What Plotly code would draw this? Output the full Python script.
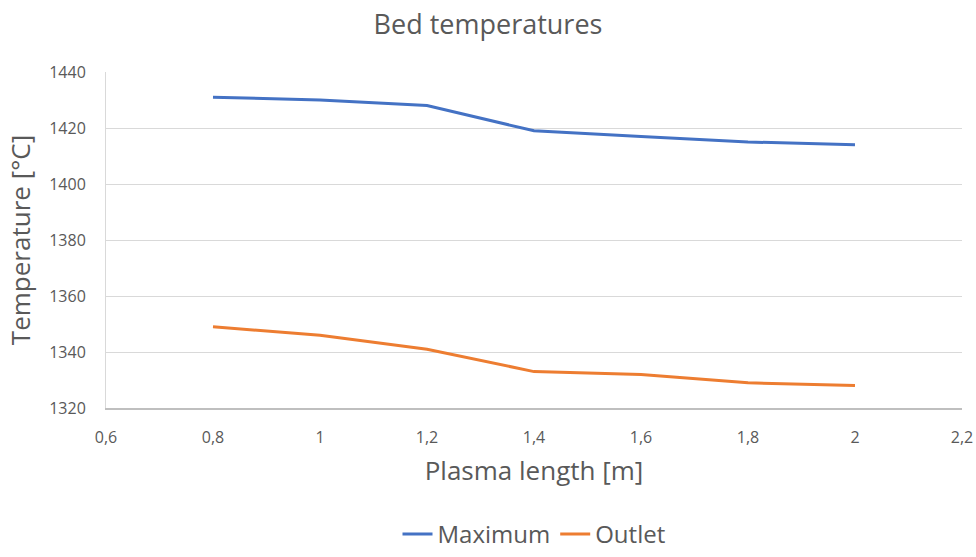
import plotly.graph_objects as go

plasma_length = [0.8, 1.0, 1.2, 1.4, 1.6, 1.8, 2.0]
maximum_temp = [1431, 1430, 1428, 1419, 1417, 1415, 1414]
outlet_temp = [1349, 1346, 1341, 1333, 1332, 1329, 1328]

x_ticks = [0.6, 0.8, 1.0, 1.2, 1.4, 1.6, 1.8, 2.0, 2.2]
x_tick_labels = ["0,6", "0,8", "1", "1,2", "1,4", "1,6", "1,8", "2", "2,2"]
y_ticks = [1320, 1340, 1360, 1380, 1400, 1420, 1440]

FONT = "Open Sans, Liberation Sans, sans-serif"
TEXT = "#595959"
H = 557

fig = go.Figure()
fig.add_trace(go.Scatter(x=plasma_length, y=maximum_temp, mode="lines", name="Maximum",
                         line=dict(color="#4472C4", width=3)))
fig.add_trace(go.Scatter(x=plasma_length, y=outlet_temp, mode="lines", name="Outlet",
                         line=dict(color="#ED7D31", width=3)))

fig.update_layout(
    width=976, height=H,
    margin=dict(l=106, r=14, t=72, b=149, autoexpand=False),
    paper_bgcolor="white", plot_bgcolor="white",
    title=dict(text="Bed temperatures", x=0.5, xanchor="center",
               y=1 - 25 / H, yref="container", yanchor="middle",
               font=dict(family=FONT, size=27, color=TEXT)),
    font=dict(family=FONT, color=TEXT),
    legend=dict(orientation="h", x=0.5, xanchor="center",
                y=0, yref="container", yanchor="bottom",
                font=dict(family=FONT, size=24, color=TEXT)),
    showlegend=True,
)

fig.update_xaxes(
    range=[0.6, 2.2], tickvals=x_ticks, ticktext=x_tick_labels,
    showgrid=False, zeroline=False, automargin=False,
    showline=True, linecolor="#BFBFBF", linewidth=1.5,
    ticks="", ticklabelstandoff=14, tickfont=dict(family=FONT, size=16, color=TEXT),
    title=dict(text="Plasma length [m]", font=dict(family=FONT, size=26, color=TEXT), standoff=15),
)
fig.update_yaxes(
    range=[1320, 1440], tickvals=y_ticks,
    showgrid=True, gridcolor="#D9D9D9", gridwidth=1, zeroline=False, automargin=False,
    showline=True, linecolor="#D9D9D9", linewidth=1,
    ticks="", ticklabelstandoff=16, tickfont=dict(family=FONT, size=16, color=TEXT),
    title=dict(text="Temperature [°C]", font=dict(family=FONT, size=26, color=TEXT), standoff=11),
)

fig.write_html("out.html")
